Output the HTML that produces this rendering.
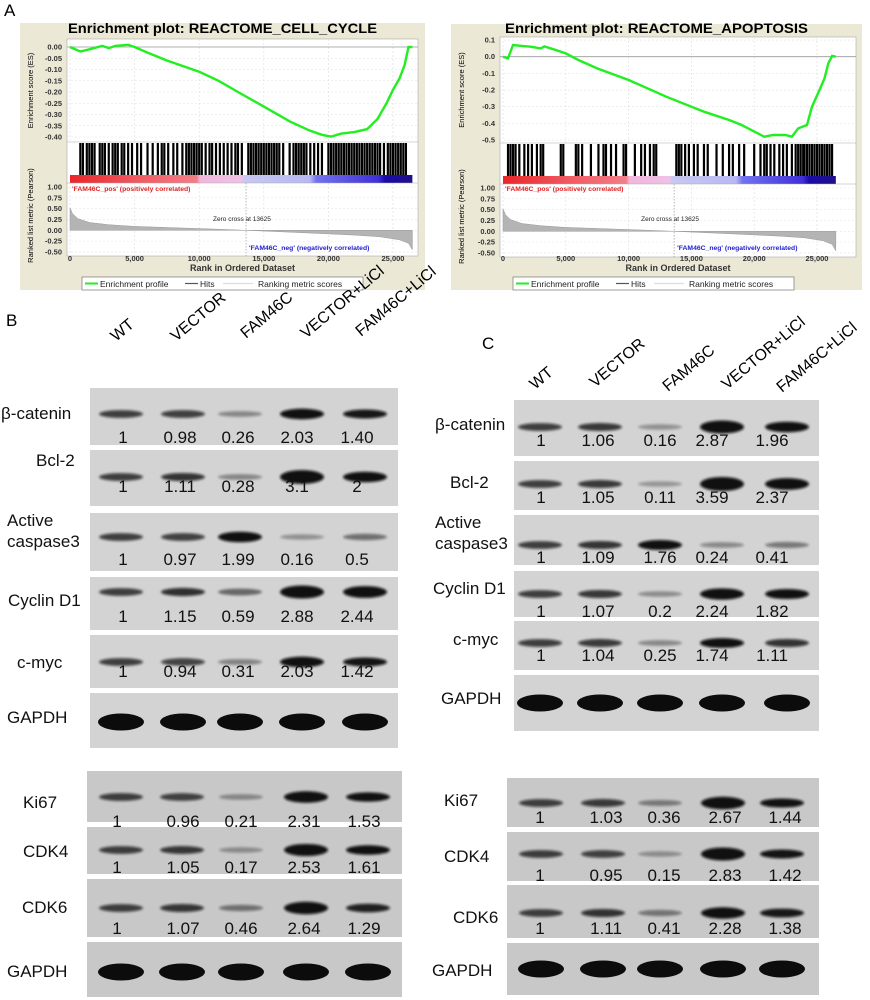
<!DOCTYPE html>
<html><head><meta charset="utf-8">
<style>
html,body{margin:0;padding:0;background:#fff;}
svg{display:block;font-family:"Liberation Sans",Arial,sans-serif;}
</style></head>
<body>
<svg id="fig" width="870" height="1000" viewBox="0 0 870 1000" xmlns="http://www.w3.org/2000/svg">
<defs>
<filter id="blur" x="-20%" y="-100%" width="140%" height="300%"><feGaussianBlur stdDeviation="1.3"/></filter>
<linearGradient id="cbar" x1="0" x2="1" y1="0" y2="0">
<stop offset="0" stop-color="#e8262a"/><stop offset="0.2" stop-color="#f05a62"/><stop offset="0.37" stop-color="#f27e88"/>
<stop offset="0.38" stop-color="#f2b6dc"/><stop offset="0.5" stop-color="#eec2e6"/><stop offset="0.51" stop-color="#c8c8f2"/>
<stop offset="0.7" stop-color="#b8b8f4"/><stop offset="0.72" stop-color="#7272f0"/><stop offset="0.9" stop-color="#4030d8"/>
<stop offset="0.92" stop-color="#1a0aa8"/><stop offset="1" stop-color="#20108a"/>
</linearGradient>
</defs>
<text x="4" y="16" font-size="17">A</text>
<text x="6" y="326" font-size="17">B</text>
<text x="482" y="349" font-size="17">C</text>
</svg>
<script>
// ---------- GSEA data ----------
const xTickVals = [0, 5000, 10000, 15000, 20000, 25000];
const xTickLabels = ["0", "5,000", "10,000", "15,000", "20,000", "25,000"];
const metricTicks = [1.00, 0.75, 0.50, 0.25, 0.00, -0.25, -0.50];
const cellCycleEsTicks = [0.00, -0.05, -0.10, -0.15, -0.20, -0.25, -0.30, -0.35, -0.40];
const apoptosisEsTicks = [0.1, 0.0, -0.1, -0.2, -0.3, -0.4, -0.5];
const cellCycleRanks = [0, 800, 1500, 2500, 3000, 3500, 4500, 5000, 6000, 7500, 9000, 10000, 11500, 13000, 15000, 17000, 18500, 19500, 20200, 21000, 22000, 23000, 23800, 24500, 25000, 25500, 25900, 26200, 26500];
const cellCycleES = [0, -0.02, -0.01, 0.005, -0.005, 0.005, 0.01, 0.0, -0.025, -0.06, -0.09, -0.11, -0.15, -0.2, -0.265, -0.33, -0.37, -0.39, -0.398, -0.385, -0.378, -0.365, -0.32, -0.25, -0.19, -0.14, -0.08, 0.0, 0.0];
const apoptosisRanks = [0, 400, 800, 1500, 2200, 3000, 3300, 4000, 5000, 6000, 7500, 10000, 13000, 16000, 18000, 19000, 20800, 21500, 22500, 23000, 23500, 24200, 24600, 25200, 25600, 25900, 26200, 26500];
const apoptosisES = [0, -0.01, 0.07, 0.065, 0.06, 0.05, 0.062, 0.045, 0.02, -0.02, -0.07, -0.14, -0.24, -0.33, -0.38, -0.41, -0.48, -0.47, -0.47, -0.48, -0.43, -0.41, -0.3, -0.2, -0.13, -0.04, 0.005, 0.0];
const cellCycleHits = [800,1000,1300,1500,1700,1900,2300,2500,2700,3000,3300,3500,3700,4000,4200,4500,4800,5200,5500,6000,6400,6800,7100,7300,7600,8000,8300,8700,9000,9200,9400,9600,9800,10000,10200,10500,10800,11000,11300,11600,11900,12200,12500,12800,13000,13300,13800,14000,14200,14400,14600,14800,15000,15200,15400,15600,15800,16000,16200,16500,17000,17300,17500,17700,17900,18100,18300,18600,18900,19200,19500,20000,20200,20400,20600,20800,21000,21200,21400,21600,21800,22000,22200,22400,22600,22800,23000,23200,23400,23600,23800,24000,24300,24600,24800,25000,25200,25400,25600,25800,26000];
const apoptosisHits = [400,600,800,1000,1300,1700,2000,2300,2700,3000,3200,4600,4800,5800,6000,6300,7000,7600,8000,8200,8600,9000,9600,9800,10500,11000,11300,11700,12000,12200,13800,14000,14200,14500,14800,15200,15500,16000,16300,17000,17500,18000,18300,18800,19200,20000,20500,20800,21000,21300,21600,22000,22300,22600,23000,23300,23500,23700,23900,24000,24200,24400,24600,24800,25000,25200,25400,25600,25800,26000,26200];
const metricRanks = [0, 200, 600, 1500, 3000, 5000, 8000, 11000, 13625, 16000, 19000, 22000, 24000, 25500, 26200, 26500];
const metricValues = [0.52, 0.38, 0.27, 0.18, 0.13, 0.09, 0.06, 0.03, 0, -0.03, -0.07, -0.11, -0.15, -0.22, -0.3, -0.45];
const zeroCross = 13625;

// ---------- Western blot data ----------
const lanes = ["WT", "VECTOR", "FAM46C", "VECTOR+LiCl", "FAM46C+LiCl"];
const proteinsTop = ["β-catenin", "Bcl-2", "Active caspase3", "Cyclin D1", "c-myc", "GAPDH"];
const proteinsBottom = ["Ki67", "CDK4", "CDK6", "GAPDH"];
const valuesBTop = [[1,0.98,0.26,2.03,1.40],[1,1.11,0.28,3.1,2],[1,0.97,1.99,0.16,0.5],[1,1.15,0.59,2.88,2.44],[1,0.94,0.31,2.03,1.42]];
const labelsBTop = [["1","0.98","0.26","2.03","1.40"],["1","1.11","0.28","3.1","2"],["1","0.97","1.99","0.16","0.5"],["1","1.15","0.59","2.88","2.44"],["1","0.94","0.31","2.03","1.42"]];
const valuesBBottom = [[1,0.96,0.21,2.31,1.53],[1,1.05,0.17,2.53,1.61],[1,1.07,0.46,2.64,1.29]];
const labelsBBottom = [["1","0.96","0.21","2.31","1.53"],["1","1.05","0.17","2.53","1.61"],["1","1.07","0.46","2.64","1.29"]];
const valuesCTop = [[1,1.06,0.16,2.87,1.96],[1,1.05,0.11,3.59,2.37],[1,1.09,1.76,0.24,0.41],[1,1.07,0.2,2.24,1.82],[1,1.04,0.25,1.74,1.11]];
const labelsCTop = [["1","1.06","0.16","2.87","1.96"],["1","1.05","0.11","3.59","2.37"],["1","1.09","1.76","0.24","0.41"],["1","1.07","0.2","2.24","1.82"],["1","1.04","0.25","1.74","1.11"]];
const valuesCBottom = [[1,1.03,0.36,2.67,1.44],[1,0.95,0.15,2.83,1.42],[1,1.11,0.41,2.28,1.38]];
const labelsCBottom = [["1","1.03","0.36","2.67","1.44"],["1","0.95","0.15","2.83","1.42"],["1","1.11","0.41","2.28","1.38"]];

const NS = "http://www.w3.org/2000/svg";
const svg = document.getElementById("fig");
function mk(tag, attrs, parent) {
  const el = document.createElementNS(NS, tag);
  for (const k in attrs) el.setAttribute(k, attrs[k]);
  (parent || svg).appendChild(el);
  return el;
}
function txt(str, attrs, parent) { const t = mk("text", attrs, parent); t.textContent = str; return t; }

function drawGsea(L, title, ranks, es, esTicks, hits, esScale, es0y) {
  const g = mk("g", {});
  
  
  const xs = r => L.x0 + r * L.xs;
  const ey = v => es0y - v * esScale;
  const my = v => L.m0 - v * L.ms;
  const bg = mk("rect", {x: L.bx, y: L.by, width: L.bw, height: L.bh, fill: "#ebe8d6"}, g);
  
  
  const pl = mk("rect", {x: L.px0, y: L.esTop, width: L.px1 - L.px0, height: L.mBot - L.esTop, fill: "#fff", stroke: "#aaa", "stroke-width": 0.6}, g);
  
  
  const tt = txt(title, {x: L.tx, y: 33, "font-size": 13.5, "font-weight": "bold", textLength: L.tw, lengthAdjust: "spacingAndGlyphs"}, g);
  
  
  xTickVals.forEach((v, i) => {
    const gl = mk("line", {x1: xs(v), x2: xs(v), y1: L.esTop, y2: L.hitTop, stroke: "#ddd", "stroke-width": 0.6, "stroke-dasharray": "2,2"}, g);
    
    
    const gl2 = mk("line", {x1: xs(v), x2: xs(v), y1: L.cbBot, y2: L.mBot, stroke: "#ddd", "stroke-width": 0.6, "stroke-dasharray": "2,2"}, g);
    
    
    const tl = txt(xTickLabels[i], {x: xs(v), y: 261, "font-size": 7.5, "font-weight": "bold", "text-anchor": "middle", fill: "#333"}, g);
    
    
  });
  esTicks.forEach(v => {
    const gl = mk("line", {x1: L.px0, x2: L.px1, y1: ey(v), y2: ey(v), stroke: v === 0 ? "#999" : "#e2e2e2", "stroke-width": v === 0 ? 0.8 : 0.6, "stroke-dasharray": v === 0 ? "" : "2,2"}, g);
    
    
    const tl = txt(v.toFixed(L.dec), {x: L.px0 - 5, y: ey(v) + 2.5, "font-size": 7.5, "font-weight": "bold", "text-anchor": "end", fill: "#333"}, g);
    
    
  });
  metricTicks.forEach(v => {
    const gl = mk("line", {x1: L.px0, x2: L.px1, y1: my(v), y2: my(v), stroke: "#e6e6e6", "stroke-width": 0.6, "stroke-dasharray": "2,2"}, g);
    
    
    const tl = txt(v.toFixed(2), {x: L.px0 - 5, y: my(v) + 2.5, "font-size": 7.5, "font-weight": "bold", "text-anchor": "end", fill: "#333"}, g);
    
    
  });
  const pts = ranks.map((r, i) => xs(r).toFixed(1) + "," + ey(es[i]).toFixed(1)).join(" ");
  const cur = mk("polyline", {points: pts, fill: "none", stroke: "#22ee22", "stroke-width": 2.4}, g);
  
  
  mk("line", {x1: L.px0, x2: L.px1, y1: L.hitTop, y2: L.hitTop, stroke: "#aaa", "stroke-width": 0.6}, g);
  hits.forEach(h => {
    const hl = mk("line", {x1: xs(h), x2: xs(h), y1: L.hitTop + 1, y2: L.cbTop, stroke: "#000", "stroke-width": 2.2}, g);
    
    
  });
  const cb = mk("rect", {x: xs(0), y: L.cbTop, width: xs(26500) - xs(0), height: L.cbBot - L.cbTop, fill: "url(#cbar)"}, g);
  
  
  mk("line", {x1: L.px0, x2: L.px1, y1: L.cbBot, y2: L.cbBot, stroke: "#aaa", "stroke-width": 0.6}, g);
  let d = "M" + xs(metricRanks[0]) + "," + my(0);
  metricRanks.forEach((r, i) => { d += " L" + xs(r).toFixed(1) + "," + my(metricValues[i]).toFixed(1); });
  d += " L" + xs(metricRanks[metricRanks.length - 1]) + "," + my(0) + " Z";
  const ar = mk("path", {d: d, fill: "#b4b4b4", stroke: "#9a9a9a", "stroke-width": 0.5}, g);
  
  
  const zc = mk("line", {x1: xs(zeroCross), x2: xs(zeroCross), y1: L.cbBot, y2: L.mBot, stroke: "#888", "stroke-width": 0.6, "stroke-dasharray": "1.5,1.5"}, g);
  
  
  const zt = txt("Zero cross at " + zeroCross, {x: xs(zeroCross) - 33, y: 221, "font-size": 6.5, fill: "#222"}, g);
  
  
  const pt = txt("'FAM46C_pos' (positively correlated)", {x: xs(0) + 2, y: 191, "font-size": 6.8, fill: "#e02020", "font-weight": "bold"}, g);
  
  
  const nt = txt("'FAM46C_neg' (negatively correlated)", {x: xs(zeroCross) + 3, y: 250, "font-size": 6.8, fill: "#2020d0", "font-weight": "bold"}, g);
  
  
  const ya = txt("Enrichment score (ES)", {x: 0, y: 0, "font-size": 7.5, "text-anchor": "middle", transform: "translate(" + (L.bx + 13) + "," + ((L.esTop + L.hitTop) / 2) + ") rotate(-90)"}, g);
  
  
  const yb = txt("Ranked list metric (Pearson)", {x: 0, y: 0, "font-size": 7.5, "text-anchor": "middle", transform: "translate(" + (L.bx + 13) + "," + ((L.cbTop + L.mBot) / 2) + ") rotate(-90)"}, g);
  
  
  const xa = txt("Rank in Ordered Dataset", {x: (L.px0 + L.px1) / 2, y: 271, "font-size": 9, "font-weight": "bold", "text-anchor": "middle", fill: "#333"}, g);
  
  
  const lx = L.bx + 62;
  const lg = mk("g", {}, g);
  
  
  mk("rect", {x: lx, y: 277, width: 281, height: 13, fill: "#fff", stroke: "#777", "stroke-width": 0.7}, lg);
  mk("line", {x1: lx + 3, x2: lx + 16, y1: 283.5, y2: 283.5, stroke: "#22ee22", "stroke-width": 2}, lg);
  const l1 = txt("Enrichment profile", {x: lx + 18, y: 287, "font-size": 8.5, fill: "#222"}, lg);
  
  
  mk("line", {x1: lx + 103, x2: lx + 116, y1: 283.5, y2: 283.5, stroke: "#555", "stroke-width": 1.2}, lg);
  const l2 = txt("Hits", {x: lx + 118, y: 287, "font-size": 8.5, fill: "#222"}, lg);
  
  
  mk("line", {x1: lx + 141, x2: lx + 171, y1: 283.5, y2: 283.5, stroke: "#ddd", "stroke-width": 1.2}, lg);
  const l3 = txt("Ranking metric scores", {x: lx + 176, y: 287, "font-size": 8.5, fill: "#222"}, lg);
  
  
}

drawGsea({bx: 20, by: 23, bw: 405, bh: 267, px0: 67, px1: 418, x0: 70, xs: 323 / 25000, esTop: 39, hitTop: 142, cbTop: 175, cbBot: 183, m0: 230.3, ms: 43.3, mBot: 256, tx: 68, tw: 309, dec: 2},
  "Enrichment plot: REACTOME_CELL_CYCLE", cellCycleRanks, cellCycleES, cellCycleEsTicks, cellCycleHits, 225, 47);
drawGsea({bx: 451, by: 24, bw: 411, bh: 266, px0: 500, px1: 856, x0: 503, xs: 314 / 25000, esTop: 37, hitTop: 143, cbTop: 176, cbBot: 184, m0: 231.3, ms: 43.3, mBot: 257, tx: 505, tw: 303, dec: 1},
  "Enrichment plot: REACTOME_APOPTOSIS", apoptosisRanks, apoptosisES, apoptosisEsTicks, apoptosisHits, 166.7, 56.7);

// ---------- Blots ----------
function laneHeaders(pos) {
  lanes.forEach((l, i) => {
    const t = txt(l, {x: pos[i][0], y: pos[i][1], "font-size": 16, transform: "rotate(-40," + pos[i][0] + "," + pos[i][1] + ")"});
    
    
  });
}
laneHeaders([[116, 342], [176, 342], [246, 339], [306, 339], [361, 337]]);
laneHeaders([[535, 390], [595, 388], [668, 392], [727, 390], [782, 393]]);

function blotRow(name, labelPos, x, w, top, h, bg, bandY, bandXs, vals, labels, numY, numXs, isGapdh) {
  const g = mk("g", {});
  
  
  mk("rect", {x: x, y: top, width: w, height: h, fill: bg}, g);
  bandXs.forEach((bx, i) => {
    const v = isGapdh ? 1 : vals[i];
    const ry = isGapdh ? 8.5 : Math.min(7, 2.5 + 1.4 * v);
    const op = isGapdh ? 1 : Math.min(0.98, 0.25 + 0.5 * v);
    const b = mk("ellipse", {cx: bx, cy: top + bandY, rx: isGapdh ? 23 : 22, ry: ry, fill: "#0c0c0c", opacity: op, filter: isGapdh ? "" : "url(#blur)"}, g);
    
    
  });
  if (labels) labels.forEach((s, i) => {
    const t = txt(s, {x: numXs[i], y: top + numY, "font-size": 17, "text-anchor": "middle", fill: "#111"}, g);
    
    
  });
  const lines = name === "Active caspase3" ? ["Active", "caspase3"] : [name];
  lines.forEach((ln, j) => {
    const t = txt(ln, {x: labelPos[0], y: labelPos[1] + j * 21 - (lines.length - 1) * 10 + 6, "font-size": 17, fill: "#111"}, g);
    
    
  });
}

const bTopRows = [[388, 57, 26, 55], [450, 56, 27, 42], [513, 58, 24, 52], [577, 53, 15, 45], [635, 53, 27, 42], [693, 55, 29, 0]];
const bTopLabels = [[1, 413], [36, 460], [7, 530], [8, 600], [17, 662], [7, 717]];
const bTopBand = [121, 183, 240, 302, 365];
const bTopNum = [123, 180, 238, 297, 357];
proteinsTop.forEach((p, i) => {
  const r = bTopRows[i];
  const gap = p === "GAPDH";
  blotRow(p, bTopLabels[i], 90, 308, r[0], r[1], "#d3d3d3", r[2], bTopBand, gap ? null : valuesBTop[i], gap ? null : labelsBTop[i], r[3], bTopNum, gap);
});
const bBotRows = [[771, 51, 26, 56], [827, 47, 23, 46], [879, 58, 29, 55], [942, 55, 30, 0]];
const bBotLabels = [[23, 802], [23, 851], [22, 907], [7, 971]];
const bBotBand = [121, 182, 241, 306, 368];
const bBotNum = [117, 183, 241, 304, 364];
proteinsBottom.forEach((p, i) => {
  const r = bBotRows[i];
  const gap = p === "GAPDH";
  blotRow(p, bBotLabels[i], 87, 315, r[0], r[1], "#c8c8c8", r[2], bBotBand, gap ? null : valuesBBottom[i], gap ? null : labelsBBottom[i], r[3], bBotNum, gap);
});
const cTopRows = [[400, 56, 27, 46], [461, 49, 23, 42], [515, 50, 30, 48], [571, 46, 23, 46], [621, 49, 22, 40], [675, 56, 28, 0]];
const cTopLabels = [[435, 424], [450, 482], [435, 532], [433, 588], [453, 639], [441, 698]];
const cTopBand = [540, 600, 660, 722, 787];
const cTopNum = [541, 598, 660, 712, 772];
proteinsTop.forEach((p, i) => {
  const r = cTopRows[i];
  const gap = p === "GAPDH";
  blotRow(p, cTopLabels[i], 514, 305, r[0], r[1], "#d3d3d3", r[2], cTopBand, gap ? null : valuesCTop[i], gap ? null : labelsCTop[i], r[3], cTopNum, gap);
});
const cBotRows = [[778, 49, 25, 45], [832, 49, 22, 49], [885, 53, 28, 49], [943, 52, 26, 0]];
const cBotLabels = [[444, 800], [444, 856], [453, 917], [432, 970]];
const cBotBand = [541, 603, 660, 723, 782];
const cBotNum = [540, 606, 664, 725, 785];
proteinsBottom.forEach((p, i) => {
  const r = cBotRows[i];
  const gap = p === "GAPDH";
  blotRow(p, cBotLabels[i], 507, 312, r[0], r[1], "#c8c8c8", r[2], cBotBand, gap ? null : valuesCBottom[i], gap ? null : labelsCBottom[i], r[3], cBotNum, gap);
});
</script>
</body></html>
